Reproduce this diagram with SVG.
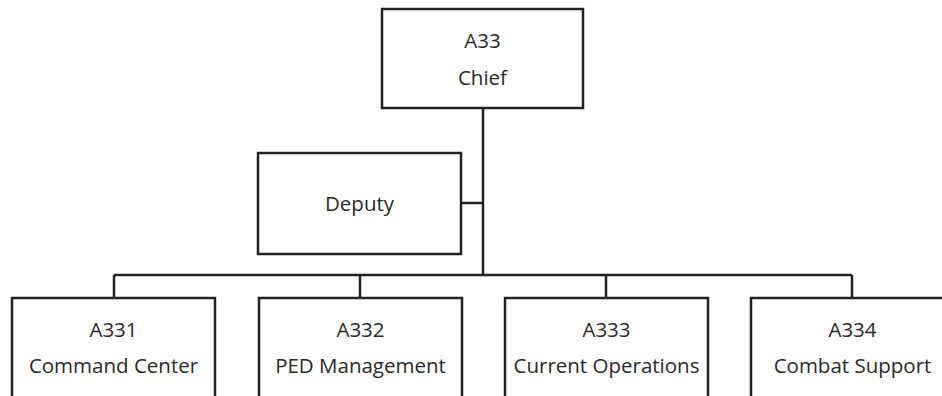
<svg xmlns="http://www.w3.org/2000/svg" width="942" height="396" viewBox="0 0 942 396">
<style>
.box{fill:#fff;stroke:#222;stroke-width:2.5}
.ln{fill:none;stroke:#222;stroke-width:2.5}
text{font-family:"Open Sans","Noto Sans",sans-serif;font-size:20.5px;fill:#2a2a2a;text-anchor:middle}
</style>
<rect width="942" height="396" fill="#fff"/>
<g id="connectors">
<path class="ln" d="M483 108 V275"/>
<path class="ln" d="M461 203 H483"/>
<path class="ln" d="M114 275 H852"/>
<path class="ln" d="M114 275 V298 M360 275 V298 M606 275 V298 M852 275 V298"/>
</g>
<g id="chief"><rect class="box" x="382" y="9" width="201" height="99"/><text x="482.5" y="48">A33</text><text x="482.5" y="85">Chief</text></g>
<g id="deputy"><rect class="box" x="258" y="153" width="203" height="101"/><text x="359.5" y="211">Deputy</text></g>
<g id="a331"><rect class="box" x="12" y="298" width="203" height="110"/><text x="113.5" y="337">A331</text><text x="113.5" y="373">Command Center</text></g>
<g id="a332"><rect class="box" x="259" y="298" width="203" height="110"/><text x="360.5" y="337">A332</text><text x="360.5" y="373">PED Management</text></g>
<g id="a333"><rect class="box" x="505" y="298" width="203" height="110"/><text x="606.5" y="337">A333</text><text x="606.5" y="373">Current Operations</text></g>
<g id="a334"><rect class="box" x="751" y="298" width="203" height="110"/><text x="852.5" y="337">A334</text><text x="852.5" y="373">Combat Support</text></g>
</svg>
